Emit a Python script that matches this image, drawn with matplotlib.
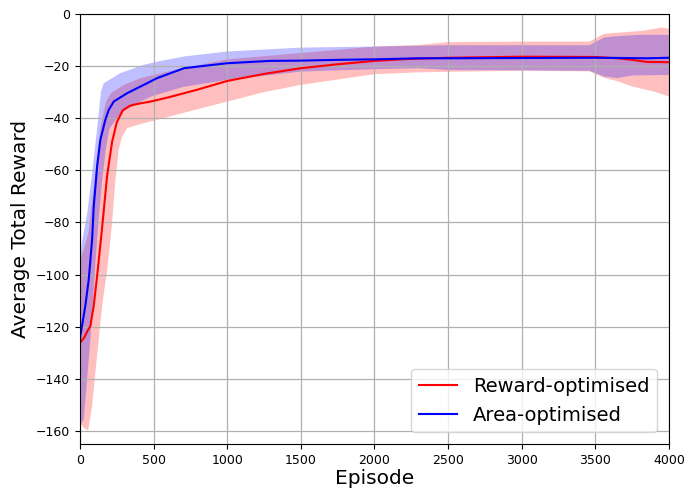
import numpy as np
import matplotlib
matplotlib.use("Agg")
import matplotlib.pyplot as plt

# Reward-optimised agent: mean curve and spread boundaries
rew_ep = [0, 30, 50, 70, 93, 116, 150, 184, 218, 250, 290, 340, 390, 481, 600, 700, 800,
          1000, 1250, 1500, 1750, 2000, 2250, 2500, 3000, 3500, 3650, 3750, 3850, 4000]
rew_mean = [-126.2, -124.0, -121.7, -119.8, -112.0, -100.6, -82.0, -62.0, -49.0, -41.5,
            -37.0, -35.2, -34.5, -33.6, -32.0, -30.5, -29.0, -25.7, -23.0, -20.8, -19.3,
            -18.0, -17.2, -16.8, -16.4, -16.5, -17.0, -17.6, -18.4, -18.5]
rew_up_ep = [0, 11, 57, 84, 114, 141, 175, 209, 299, 413, 640, 1000, 1500, 2000, 2300,
             2500, 3000, 3460, 3560, 3700, 3830, 3950, 4000]
rew_up = [-95.0, -93.0, -84.0, -71.0, -56.0, -43.0, -34.0, -30.4, -27.2, -24.6, -21.5,
          -17.4, -15.0, -12.5, -11.9, -10.8, -10.6, -10.6, -7.6, -7.0, -6.4, -5.2, -5.7]
rew_lo_ep = [0, 30, 55, 82, 104, 127, 150, 185, 218, 240, 263, 286, 320, 433, 524, 700,
             1000, 1250, 1500, 2000, 2300, 2500, 3000, 3460, 3560, 3650, 3750, 3900, 4000]
rew_lo = [-157.0, -159.0, -159.8, -150.5, -137.7, -125.0, -112.0, -98.0, -80.0, -64.0,
          -52.0, -47.0, -43.8, -41.9, -40.6, -38.0, -33.6, -30.0, -27.2, -23.1, -22.4,
          -22.2, -21.8, -22.0, -24.5, -25.8, -27.8, -29.8, -31.7]

# Area-optimised agent: mean curve and spread boundaries
area_ep = [0, 36, 59, 82, 93, 116, 138, 172, 195, 229, 320, 433, 524, 707, 1000, 1290,
           1500, 1750, 2000, 2300, 2500, 3000, 3500, 3700, 3850, 4000]
area_mean = [-124.3, -112.0, -102.0, -86.6, -74.0, -58.5, -48.3, -40.6, -36.8, -33.6,
             -30.4, -27.2, -24.6, -20.8, -18.9, -18.0, -17.9, -17.6, -17.4, -17.0, -17.0,
             -16.9, -16.8, -16.9, -17.0, -16.8]
area_up_ep = [0, 15, 50, 83, 120, 143, 161, 274, 433, 524, 707, 1000, 1500, 2000, 2500,
              3000, 3460, 3560, 3650, 3800, 4000]
area_up = [-93.0, -87.0, -76.0, -61.0, -42.0, -29.5, -26.6, -22.7, -19.5, -18.3, -16.3,
           -14.4, -12.9, -12.5, -12.0, -12.0, -12.0, -9.0, -8.5, -8.0, -8.0]
area_lo_ep = [0, 25, 48, 70, 93, 105, 125, 150, 175, 200, 250, 300, 400, 482, 700, 1000,
              1500, 2000, 2300, 2500, 3000, 3460, 3560, 3650, 3750, 4000]
area_lo = [-158.0, -155.6, -140.0, -125.0, -106.0, -95.0, -80.0, -64.0, -52.0, -44.0,
           -40.0, -37.0, -34.0, -31.7, -28.0, -25.3, -22.1, -21.2, -20.8, -21.5, -21.6,
           -21.8, -24.0, -24.6, -23.6, -23.4]

x_ticks = [0, 500, 1000, 1500, 2000, 2500, 3000, 3500, 4000]
y_ticks = [0, -20, -40, -60, -80, -100, -120, -140, -160]

fig = plt.figure(figsize=(6.84, 4.92), dpi=100)
ax = fig.add_axes([0.117, 0.0976, 0.861, 0.874])


def band(ax, ep_up, up, ep_lo, lo, color, alpha):
    # shaded spread between the upper and lower boundary curves
    xs = np.r_[ep_up, ep_lo[::-1]]
    ys = np.r_[up, lo[::-1]]
    ax.fill(xs, ys, color=color, alpha=alpha, linewidth=0)


band(ax, rew_up_ep, rew_up, rew_lo_ep, rew_lo, "red", 0.25)
band(ax, area_up_ep, area_up, area_lo_ep, area_lo, "blue", 0.25)

ax.plot(rew_ep, rew_mean, color="red", lw=1.5, label="Reward-optimised")
ax.plot(area_ep, area_mean, color="blue", lw=1.5, label="Area-optimised")

ax.set_xlim(0, 4000)
ax.set_ylim(-165, 0)
ax.set_xticks(x_ticks)
ax.set_yticks(y_ticks)
ax.tick_params(labelsize=9)
ax.grid(True, color="#b0b0b0", lw=0.9)
ax.set_xlabel("Episode", fontsize=14.5, labelpad=2)
ax.set_ylabel("Average Total Reward", fontsize=14.5, labelpad=4)
ax.legend(loc="lower right", fontsize=14, borderaxespad=0.6)

fig.savefig("out.png", dpi=100)
